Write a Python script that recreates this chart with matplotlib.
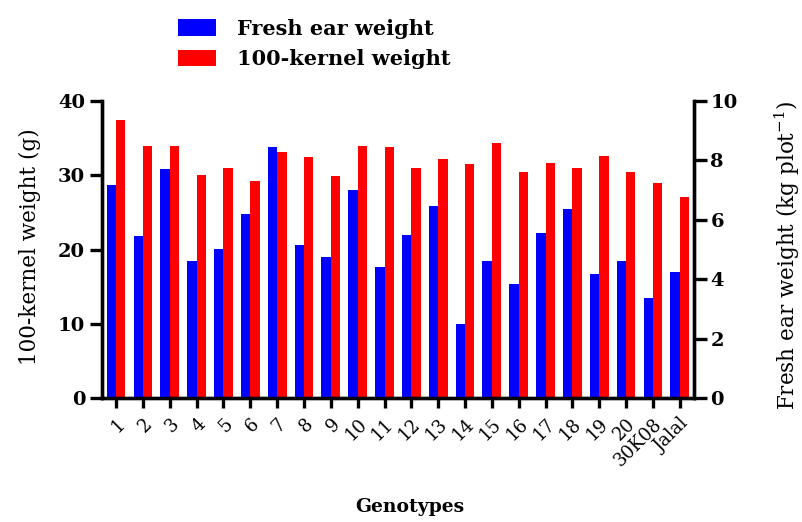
import matplotlib
matplotlib.use('Agg')
import matplotlib.pyplot as plt
import numpy as np

# data
genotypes = ["1", "2", "3", "4", "5", "6", "7", "8", "9", "10", "11",
             "12", "13", "14", "15", "16", "17", "18", "19", "20", "30K08", "Jalal"]
# fresh ear weight (kg plot^-1), right axis
fresh_ear = [7.16, 5.44, 7.70, 4.63, 5.03, 6.18, 8.45, 5.15, 4.74, 7.00, 4.40,
             5.50, 6.48, 2.50, 4.63, 3.83, 5.55, 6.37, 4.18, 4.63, 3.36, 4.23]
# 100-kernel weight (g), left axis
kernel_100 = [37.5, 34.0, 34.0, 30.1, 31.0, 29.2, 33.1, 32.4, 29.9, 34.0, 33.8,
              31.0, 32.2, 31.5, 34.3, 30.5, 31.7, 31.0, 32.6, 30.5, 28.9, 27.1]

# the reference text is a wide serif, DejaVu Serif matches the widths best
plt.rcParams['font.family'] = ['DejaVu Serif']
plt.rcParams['mathtext.fontset'] = 'dejavuserif'

BAR_W = 0.35
BLUE = '#0000FF'
RED = '#FF0000'

fig = plt.figure(figsize=(8.02, 5.22), dpi=100)
ax = fig.add_axes([0.127, 0.2375, 0.738, 0.569])
ax2 = ax.twinx()

x = np.arange(len(genotypes))
ax2.bar(x - BAR_W / 2, fresh_ear, BAR_W, color=BLUE, label='Fresh ear weight', zorder=2)
ax.bar(x + BAR_W / 2, kernel_100, BAR_W, color=RED, label='100-kernel weight', zorder=2)

ax.set_xlim(-0.53, len(genotypes) - 0.48)
ax.set_ylim(0, 40)
ax2.set_ylim(0, 10)
ax.set_yticks([0, 10, 20, 30, 40])
ax2.set_yticks([0, 2, 4, 6, 8, 10])
ax.set_xticks(x)
ax.set_xticklabels(genotypes, rotation=45, ha='right', rotation_mode='anchor',
                   fontsize=13)

for a in (ax, ax2):
    for side in ('left', 'right', 'bottom'):
        a.spines[side].set_linewidth(2.4)
    a.spines['top'].set_visible(False)
    a.tick_params(axis='y', direction='out', length=9, width=2.4, labelsize=14, pad=3)
    for lbl in a.get_yticklabels():
        lbl.set_fontweight('bold')
ax.tick_params(axis='x', direction='out', length=7, width=2.4, pad=5)

ax.set_ylabel('100-kernel weight (g)', fontsize=15.5)
ax.yaxis.set_label_coords(-0.103, 0.51)
ax2.set_ylabel('Fresh ear weight (kg plot$^{-1}$)', fontsize=15.5)
ax2.yaxis.set_label_coords(1.133, 0.48)
ax.set_xlabel('Genotypes', fontsize=13.5, fontweight='bold')
ax.xaxis.set_label_coords(0.52, -0.335)

# legend above the plot
handles = [ax2.containers[0], ax.containers[0]]
fig.legend(handles, ['Fresh ear weight', '100-kernel weight'],
           loc='upper left', bbox_to_anchor=(0.198, 1.0), frameon=False,
           prop={'weight': 'bold', 'size': 15},
           handlelength=1.85, handleheight=0.85, labelspacing=0.5, handletextpad=1.0)

fig.savefig('out.png', dpi=100, facecolor='white')
